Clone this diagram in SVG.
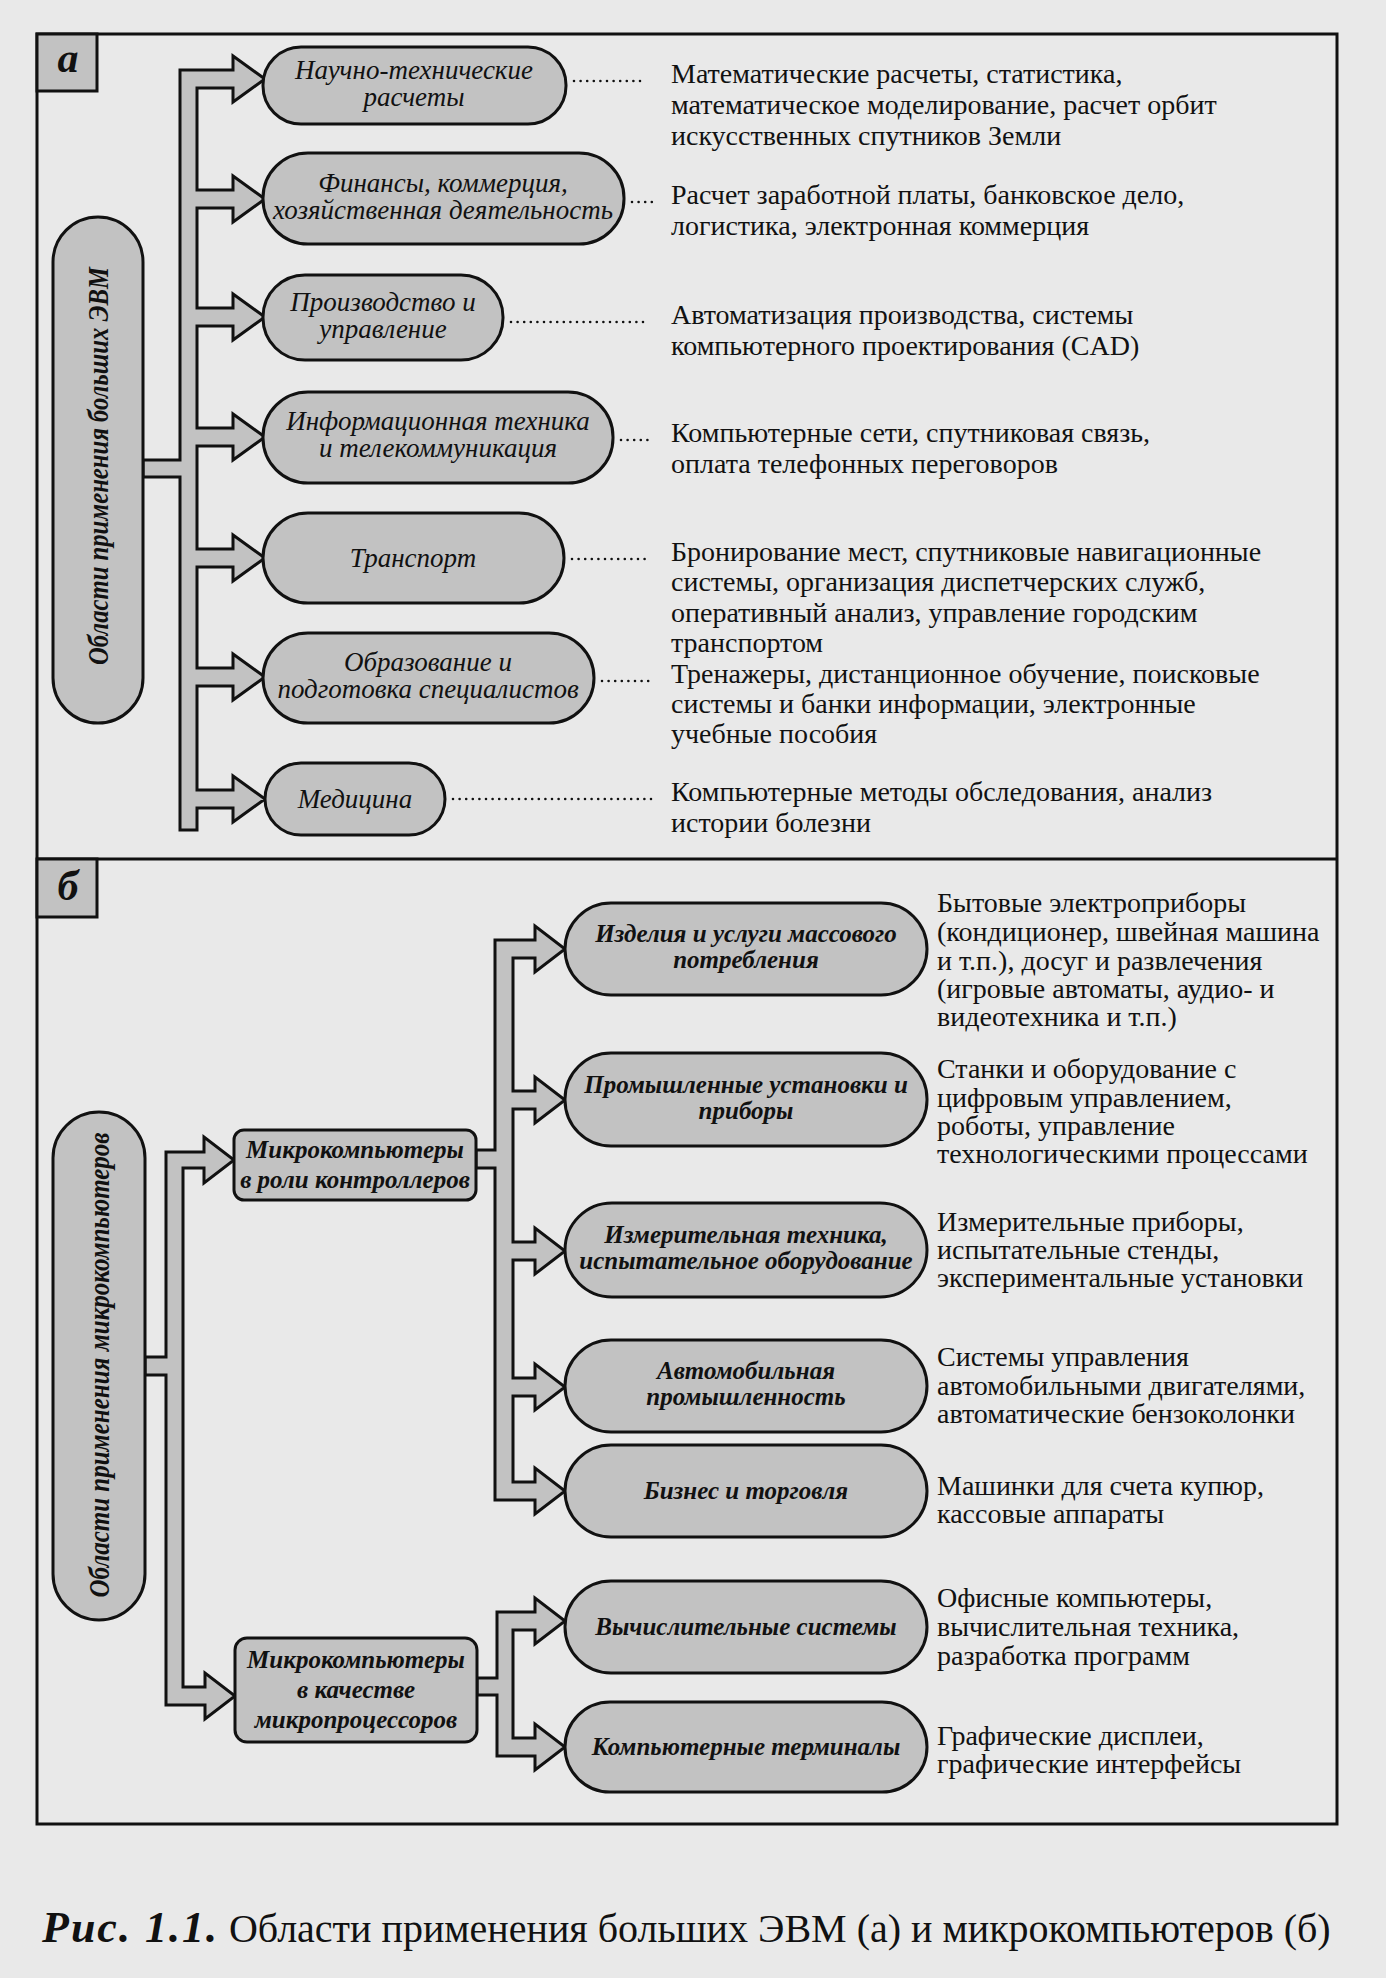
<svg xmlns="http://www.w3.org/2000/svg" width="1386" height="1978" viewBox="0 0 1386 1978">
<style>
.bg{fill:#e9e9e9}
.frame{fill:none;stroke:#111;stroke-width:3}
.node{fill:#c2c2c2;stroke:#111;stroke-width:3}
.conn{fill:#c2c2c2;stroke:#111;stroke-width:3;stroke-linejoin:miter}
.lead{fill:none;stroke:#111;stroke-width:2.6;stroke-linecap:round;stroke-dasharray:0 6.6}
.la{font-family:'Liberation Serif',serif;font-style:italic;font-size:27px;fill:#111;text-anchor:middle}
.lb{font-family:'Liberation Serif',serif;font-style:italic;font-weight:bold;font-size:25px;fill:#111;text-anchor:middle}
.lbox{font-family:'Liberation Serif',serif;font-style:italic;font-weight:bold;font-size:25px;fill:#111;text-anchor:middle}
.lv{font-family:'Liberation Serif',serif;font-style:italic;font-weight:bold;font-size:29px;fill:#111;text-anchor:middle}
.tag{font-family:'Liberation Serif',serif;font-style:italic;font-weight:bold;font-size:42px;fill:#111;text-anchor:middle}
.d{font-family:'Liberation Serif',serif;font-size:28px;fill:#111}
.cap{font-family:'Liberation Serif',serif;font-size:40px;fill:#111}
.capb{font-weight:bold;font-style:italic;font-size:44px;letter-spacing:2px}
</style>
<rect class="bg" x="0" y="0" width="1386" height="1978"/>

<g id="frame">
  <rect class="frame" x="37" y="34" width="1300" height="1790"/>
  <line class="frame" x1="37" y1="859" x2="1337" y2="859"/>
</g>

<g id="tag-a">
  <rect class="node" x="37" y="34" width="60" height="57"/>
  <text class="tag" x="68" y="72">а</text>
</g>
<g id="tag-b">
  <rect class="node" x="37" y="859" width="60" height="58"/>
  <text class="tag" x="68" y="900">б</text>
</g>

<g id="connectors">
  <path class="conn" d="M180,70 H233 V56 L265,79 L233,102 V88 H197 V190 H233 V176 L265,199 L233,222 V208 H197 V308 H233 V294 L265,317 L233,340 V326 H197 V428 H233 V414 L265,437 L233,460 V446 H197 V549 H233 V535 L265,558 L233,581 V567 H197 V668 H233 V654 L265,677 L233,700 V686 H197 V790 H233 V776 L265,799 L233,822 V808 H197 V830 H180 V477 H143 V460 H180 Z"/>
  <path class="conn" d="M166,1152 H204 V1137 L234,1160 L204,1183 V1168 H183 V1687 H205 V1673 L235,1696 L205,1719 V1705 H166 V1375 H145 V1357 H166 Z"/>
  <path class="conn" d="M476,1150 H495 V940 H535 V926 L565,949 L535,972 V958 H513 V1091 H535 V1077 L565,1100 L535,1123 V1109 H513 V1242 H535 V1228 L565,1251 L535,1274 V1260 H513 V1378 H535 V1364 L565,1387 L535,1410 V1396 H513 V1482 H535 V1468 L565,1491 L535,1514 V1500 H495 V1168 H476 Z"/>
  <path class="conn" d="M477,1678 H497 V1612 H535 V1598 L565,1621 L535,1644 V1630 H513 V1738 H535 V1724 L565,1747 L535,1770 V1756 H497 V1695 H477 Z"/>
  <line class="lead" x1="574" y1="81" x2="646" y2="81"/>
  <line class="lead" x1="632" y1="202" x2="652" y2="202"/>
  <line class="lead" x1="511" y1="322" x2="646" y2="322"/>
  <line class="lead" x1="621" y1="440" x2="652" y2="440"/>
  <line class="lead" x1="572" y1="559" x2="646" y2="559"/>
  <line class="lead" x1="602" y1="681" x2="652" y2="681"/>
  <line class="lead" x1="453" y1="799" x2="653" y2="799"/>
</g>

<g id="root-a">
  <rect class="node" x="53" y="217" width="90" height="506" rx="45" ry="45"/>
  <text class="lv" transform="translate(98,466) rotate(-90)" x="0" y="10" textLength="398" lengthAdjust="spacingAndGlyphs">Области применения больших ЭВМ</text>
</g>

<g id="a1">
  <rect class="node" x="263" y="47" width="303" height="77" rx="38" ry="38"/>
  <text class="la" x="414" y="79">Научно-технические</text>
  <text class="la" x="414" y="106">расчеты</text>
  <text class="d"><tspan x="671" y="83">Математические расчеты, статистика,</tspan><tspan x="671" y="114">математическое моделирование, расчет орбит</tspan><tspan x="671" y="145">искусственных спутников Земли</tspan></text>
</g>
<g id="a2">
  <rect class="node" x="263" y="153" width="361" height="91" rx="45" ry="45"/>
  <text class="la" x="443" y="192">Финансы, коммерция,</text>
  <text class="la" x="443" y="219">хозяйственная деятельность</text>
  <text class="d"><tspan x="671" y="204">Расчет заработной платы, банковское дело,</tspan><tspan x="671" y="235">логистика, электронная коммерция</tspan></text>
</g>
<g id="a3">
  <rect class="node" x="263" y="275" width="240" height="85" rx="42" ry="42"/>
  <text class="la" x="383" y="311">Производство и</text>
  <text class="la" x="383" y="338">управление</text>
  <text class="d"><tspan x="671" y="324">Автоматизация производства, системы</tspan><tspan x="671" y="355">компьютерного проектирования (CAD)</tspan></text>
</g>
<g id="a4">
  <rect class="node" x="263" y="392" width="350" height="91" rx="45" ry="45"/>
  <text class="la" x="438" y="430">Информационная техника</text>
  <text class="la" x="438" y="457">и телекоммуникация</text>
  <text class="d"><tspan x="671" y="442">Компьютерные сети, спутниковая связь,</tspan><tspan x="671" y="473">оплата телефонных переговоров</tspan></text>
</g>
<g id="a5">
  <rect class="node" x="263" y="513" width="301" height="90" rx="45" ry="45"/>
  <text class="la" x="413" y="567">Транспорт</text>
  <text class="d"><tspan x="671" y="561">Бронирование мест, спутниковые навигационные</tspan><tspan x="671" y="591">системы, организация диспетчерских служб,</tspan><tspan x="671" y="622">оперативный анализ, управление городским</tspan><tspan x="671" y="652">транспортом</tspan></text>
</g>
<g id="a6">
  <rect class="node" x="263" y="633" width="331" height="90" rx="45" ry="45"/>
  <text class="la" x="428" y="671">Образование и</text>
  <text class="la" x="428" y="698">подготовка специалистов</text>
  <text class="d"><tspan x="671" y="683">Тренажеры, дистанционное обучение, поисковые</tspan><tspan x="671" y="713">системы и банки информации, электронные</tspan><tspan x="671" y="743">учебные пособия</tspan></text>
</g>
<g id="a7">
  <rect class="node" x="265" y="763" width="180" height="72" rx="36" ry="36"/>
  <text class="la" x="355" y="808">Медицина</text>
  <text class="d"><tspan x="671" y="801">Компьютерные методы обследования, анализ</tspan><tspan x="671" y="832">истории болезни</tspan></text>
</g>

<g id="root-b">
  <rect class="node" x="53" y="1112" width="92" height="508" rx="46" ry="46"/>
  <text class="lv" transform="translate(99,1365) rotate(-90)" x="0" y="10" textLength="465" lengthAdjust="spacingAndGlyphs">Области применения микрокомпьютеров</text>
</g>

<g id="b-ctrl">
  <rect class="node" x="234" y="1130" width="242" height="70" rx="10" ry="10"/>
  <text class="lbox" x="355" y="1158">Микрокомпьютеры</text>
  <text class="lbox" x="355" y="1188">в роли контроллеров</text>
</g>
<g id="b-mp">
  <rect class="node" x="235" y="1638" width="242" height="104" rx="12" ry="12"/>
  <text class="lbox" x="356" y="1668">Микрокомпьютеры</text>
  <text class="lbox" x="356" y="1698">в качестве</text>
  <text class="lbox" x="356" y="1728">микропроцессоров</text>
</g>

<g id="b1">
  <rect class="node" x="565" y="903" width="362" height="92" rx="46" ry="46"/>
  <text class="lb" x="746" y="942">Изделия и услуги массового</text>
  <text class="lb" x="746" y="968">потребления</text>
  <text class="d"><tspan x="937" y="912">Бытовые электроприборы</tspan><tspan x="937" y="941">(кондиционер, швейная машина</tspan><tspan x="937" y="970">и т.п.), досуг и развлечения</tspan><tspan x="937" y="998">(игровые автоматы, аудио- и</tspan><tspan x="937" y="1026">видеотехника и т.п.)</tspan></text>
</g>
<g id="b2">
  <rect class="node" x="565" y="1053" width="362" height="93" rx="46" ry="46"/>
  <text class="lb" x="746" y="1093">Промышленные установки и</text>
  <text class="lb" x="746" y="1119">приборы</text>
  <text class="d"><tspan x="937" y="1078">Станки и оборудование с</tspan><tspan x="937" y="1107">цифровым управлением,</tspan><tspan x="937" y="1135">роботы, управление</tspan><tspan x="937" y="1163">технологическими процессами</tspan></text>
</g>
<g id="b3">
  <rect class="node" x="565" y="1203" width="362" height="94" rx="47" ry="47"/>
  <text class="lb" x="746" y="1243">Измерительная техника,</text>
  <text class="lb" x="746" y="1269">испытательное оборудование</text>
  <text class="d"><tspan x="937" y="1231">Измерительные приборы,</tspan><tspan x="937" y="1259">испытательные стенды,</tspan><tspan x="937" y="1287">экспериментальные установки</tspan></text>
</g>
<g id="b4">
  <rect class="node" x="565" y="1340" width="362" height="92" rx="46" ry="46"/>
  <text class="lb" x="746" y="1379">Автомобильная</text>
  <text class="lb" x="746" y="1405">промышленность</text>
  <text class="d"><tspan x="937" y="1366">Системы управления</tspan><tspan x="937" y="1395">автомобильными двигателями,</tspan><tspan x="937" y="1423">автоматические бензоколонки</tspan></text>
</g>
<g id="b5">
  <rect class="node" x="565" y="1445" width="362" height="92" rx="46" ry="46"/>
  <text class="lb" x="746" y="1499">Бизнес и торговля</text>
  <text class="d"><tspan x="937" y="1495">Машинки для счета купюр,</tspan><tspan x="937" y="1523">кассовые аппараты</tspan></text>
</g>
<g id="b6">
  <rect class="node" x="565" y="1581" width="362" height="92" rx="46" ry="46"/>
  <text class="lb" x="746" y="1635">Вычислительные системы</text>
  <text class="d"><tspan x="937" y="1607">Офисные компьютеры,</tspan><tspan x="937" y="1636">вычислительная техника,</tspan><tspan x="937" y="1665">разработка программ</tspan></text>
</g>
<g id="b7">
  <rect class="node" x="565" y="1702" width="362" height="90" rx="45" ry="45"/>
  <text class="lb" x="746" y="1755">Компьютерные терминалы</text>
  <text class="d"><tspan x="937" y="1745">Графические дисплеи,</tspan><tspan x="937" y="1773">графические интерфейсы</tspan></text>
</g>

<text class="cap" x="42" y="1942"><tspan class="capb">Рис. 1.1.</tspan> Области применения больших ЭВМ (а) и микрокомпьютеров (б)</text>
</svg>
